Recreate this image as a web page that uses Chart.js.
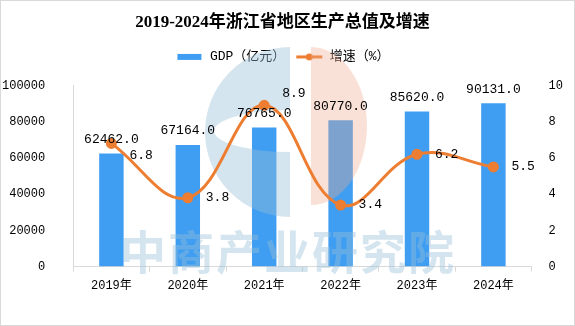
<!DOCTYPE html>
<html>
<head>
<meta charset="utf-8">
<script src="https://cdn.jsdelivr.net/npm/chart.js@4.4.1/dist/chart.umd.min.js"></script>
<style>
  html, body { margin: 0; padding: 0; background: #fff; }
  #wrap { position: relative; width: 575px; height: 326px; }
  #frame { position: absolute; left: 0; top: 0; right: 0; bottom: 0; border: 1px solid #d9d9d9; pointer-events: none; }
</style>
</head>
<body>
<div id="wrap"><canvas id="myChart"></canvas><div id="frame"></div></div>
<script>
const years = ['2019年', '2020年', '2021年', '2022年', '2023年', '2024年']
const gdp = [62462, 67164, 76765, 80770, 85620, 90131]
const growth = [6.8, 3.8, 8.9, 3.4, 6.2, 5.5]

const BLUE = '#409ef2'
const ORANGE = '#ed7d31'
const MONO = '"Liberation Mono", "Noto Sans CJK SC", monospace'

// little pictures for the legend: a flat bar and a line with a dot
function legendMark(kind, color) {
    const c = document.createElement('canvas')
    c.width = 28
    c.height = 10
    const g = c.getContext('2d')
    if (kind === 'bar') {
        g.fillStyle = color
        g.fillRect(2, 2, 24, 6)
    } else {
        g.strokeStyle = color
        g.lineWidth = 3
        g.beginPath()
        g.moveTo(1, 5)
        g.lineTo(27, 5)
        g.stroke()
        g.fillStyle = color
        g.beginPath()
        g.arc(14, 5, 3.5, 0, Math.PI * 2)
        g.fill()
    }
    return c
}
const marks = [legendMark('bar', BLUE), legendMark('line', ORANGE)]

// extra room between the legend and the plot
const legendGap = {
    id: 'legendGap',
    beforeInit(chart) {
        const fit = chart.legend.fit
        chart.legend.fit = function () {
            fit.bind(chart.legend)()
            this.height += 12
        }
    }
}

// faint logo + name stamped over the bars, under the line
const watermark = {
    id: 'watermark',
    afterDatasetDraw(chart, args) {
        if (args.index !== 0) return
        const ctx = chart.ctx
        ctx.save()
        // blue "C"
        ctx.fillStyle = 'rgba(150, 190, 215, 0.4)'
        ctx.beginPath()
        ctx.arc(290, 132, 85, Math.PI / 2, Math.PI * 1.5)
        ctx.lineTo(290, 110)
        ctx.ellipse(290, 131, 76, 21, 0, Math.PI * 1.5, Math.PI / 2, true)
        ctx.closePath()
        ctx.fill()
        // orange half disc
        ctx.fillStyle = 'rgba(240, 170, 140, 0.35)'
        ctx.beginPath()
        ctx.ellipse(311, 126, 56, 79, 0, -Math.PI / 2, Math.PI / 2)
        ctx.closePath()
        ctx.fill()
        // name
        ctx.fillStyle = 'rgba(150, 190, 215, 0.4)'
        ctx.font = 'bold 46px "Noto Sans CJK SC"'
        ctx.letterSpacing = '2px'
        ctx.textAlign = 'center'
        ctx.textBaseline = 'middle'
        ctx.fillText('中商产业研究院', 288, 252)
        ctx.restore()
    }
}

// value labels above bars and beside line points;
// a line label that would hit a bar label is pushed up or down
const valueLabels = {
    id: 'valueLabels',
    afterDatasetsDraw(chart) {
        const ctx = chart.ctx
        ctx.save()
        ctx.font = '13px ' + MONO
        ctx.fillStyle = '#000'
        ctx.textBaseline = 'middle'
        ctx.textAlign = 'center'
        const bars = chart.getDatasetMeta(0).data
        bars.forEach((bar, i) => {
            ctx.fillText(gdp[i].toFixed(1), bar.x, bar.y - 14)
        })
        ctx.textAlign = 'left'
        chart.getDatasetMeta(1).data.forEach((pt, i) => {
            const barLabelY = bars[i].y - 14
            let y = pt.y
            if (Math.abs(y - barLabelY) < 13) {
                y = pt.y < barLabelY ? barLabelY - 20 : barLabelY + 16
            }
            ctx.fillText(growth[i].toFixed(1), pt.x + 18, y)
        })
        ctx.restore()
    }
}

const tickFont = { family: MONO, size: 12 }
const plainNumber = v => String(v)
// chart.js reserves the tick padding twice on vertical axes; keep it once
const trimPadding = scale => { scale.width -= scale.options.ticks.padding }

const config = {
    data: {
        labels: years,
        datasets: [{
            type: 'bar',
            label: 'GDP（亿元）',
            data: gdp,
            backgroundColor: BLUE,
            yAxisID: 'y',
            categoryPercentage: 1,
            barPercentage: 0.32,
            order: 2
        }, {
            type: 'line',
            label: '增速（%）',
            data: growth,
            borderColor: ORANGE,
            backgroundColor: ORANGE,
            borderWidth: 3,
            pointRadius: 4,
            pointHoverRadius: 4,
            tension: 0.4,
            yAxisID: 'y1',
            order: 1
        }]
    },
    options: {
        responsive: true,
        maintainAspectRatio: false,
        animation: false,
        layout: {
            padding: { left: 2, right: 12, top: 4, bottom: 26 }
        },
        plugins: {
            tooltip: { enabled: false },
            title: {
                display: true,
                text: '2019-2024年浙江省地区生产总值及增速',
                color: '#000',
                font: { family: '"Liberation Serif", "Noto Sans CJK SC", serif', size: 17, weight: 'bold' },
                padding: { top: 8, bottom: 8 }
            },
            legend: {
                labels: {
                    usePointStyle: true,
                    pointStyleWidth: 28,
                    boxHeight: 10,
                    color: '#000',
                    font: { family: MONO, size: 13 },
                    padding: 10,
                    sort: (a, b) => a.datasetIndex - b.datasetIndex,
                    generateLabels(chart) {
                        const items = Chart.defaults.plugins.legend.labels.generateLabels(chart)
                        items.forEach(it => { it.pointStyle = marks[it.datasetIndex] })
                        return items
                    }
                }
            }
        },
        scales: {
            x: {
                grid: { display: true, drawOnChartArea: false, drawTicks: true, tickLength: 5, color: '#d9d9d9', offset: true },
                border: { color: '#d9d9d9' },
                ticks: { color: '#000', font: tickFont, padding: 7 }
            },
            y: {
                position: 'left',
                min: 0,
                max: 100000,
                grid: { display: false },
                border: { display: true, color: '#d9d9d9' },
                ticks: { stepSize: 20000, color: '#000', font: tickFont, padding: 20, callback: plainNumber },
                afterFit: trimPadding
            },
            y1: {
                position: 'right',
                min: 0,
                max: 10,
                grid: { display: false },
                border: { display: false },
                ticks: { stepSize: 2, color: '#000', font: tickFont, padding: 9, callback: plainNumber },
                afterFit: trimPadding
            }
        }
    },
    plugins: [legendGap, watermark, valueLabels]
}

const canvas = document.getElementById('myChart')
let myChart
if (canvas) {
    myChart = new Chart(canvas, config)
}
</script>
</body>
</html>
